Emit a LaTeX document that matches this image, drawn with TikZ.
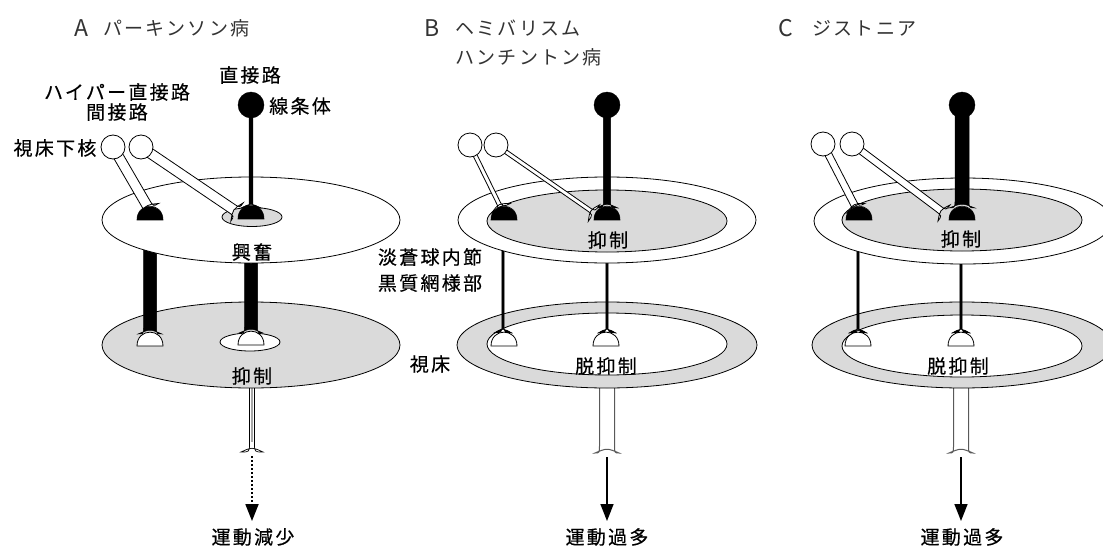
\documentclass[tikz,border=0pt]{standalone}
\usepackage{fontspec}
\setmainfont{Noto Sans CJK JP}[LetterSpace=12]
\newfontfamily\nrlabfont{Noto Sans CJK JP}[LetterSpace=12, FakeBold=0.4]
\usetikzlibrary{calc,shapes.geometric,arrows.meta}
\definecolor{nrgray}{HTML}{DADADA}

% #1 style, #2 start, #3 end, #4 half width, #5 flare half width, #6 flare length
\newcommand\nrpipe[6]{%
  \coordinate (nrM) at ($(#3)!#6pt!(#2)$);
  \draw[#1] ($(#2)!#4pt!90:(#3)$) -- ($(nrM)!#4pt!90:(#3)$)
    .. controls ($(#3)!#4pt!-90:(#2)$) .. ($(#3)!#5pt!-90:(#2)$)
    .. controls ($(#3)!5pt!(#2)$) .. ($(#3)!#5pt!90:(#2)$)
    .. controls ($(#3)!#4pt!90:(#2)$) .. ($(nrM)!#4pt!-90:(#3)$)
    -- ($(#2)!#4pt!-90:(#3)$) -- cycle;
}
% #1 style, #2 x, #3 base y
\newcommand\nrdome[3]{%
  \draw[#1] (#2-13,#3) .. controls (#2-13,#3-18.5) and (#2+13,#3-18.5) .. (#2+13,#3) -- cycle;
}

\begin{document}
\begin{tikzpicture}[x=1pt,y=-1pt,
  outl/.style={draw=black, line width=0.8pt},
  whitepipe/.style={outl, fill=white},
  blackpipe/.style={draw=black, fill=black, line width=0.5pt},
  outpipe/.style={draw=black!65, fill=white, line width=1pt},
  whitedome/.style={outl, fill=white},
  blackdome/.style={draw=black, fill=black, line width=0.6pt},
  bigell/.style={ellipse, outl, inner sep=0pt, minimum width=298pt, minimum height=86pt},
  inell/.style={ellipse, outl, inner sep=0pt, minimum width=240pt, minimum height=62pt},
  smell/.style={ellipse, outl, inner sep=0pt, minimum width=60pt, minimum height=18pt},
  stn/.style={circle, outl, fill=white, inner sep=0pt, minimum size=24pt},
  strc/.style={circle, draw=black, fill=black, inner sep=0pt, minimum size=26pt},
  lbl/.style={inner sep=0pt, font=\nrlabfont\fontsize{19}{21}\selectfont},
  ttl/.style={inner sep=0pt, font=\fontsize{19}{21}\selectfont, text=black!80},
  ltr/.style={inner sep=0pt, font=\fontsize{23}{25}\selectfont, text=black!80},
  solidarrow/.style={line width=1.6pt, -{Triangle[length=17pt,width=13pt]}},
  dotarrow/.style={line width=1.8pt, dash pattern=on 2pt off 2pt, -{Triangle[length=17pt,width=13pt]}}
]
\useasboundingbox (0,0) rectangle (1103,546);

% ================= coordinates =================
\coordinate (a-o1) at (252,382);  \coordinate (a-o2) at (252,452);
\coordinate (a-ar1) at (252,456); \coordinate (a-ar2) at (252,521);
\coordinate (b-o1) at (607,382);  \coordinate (b-o2) at (607,453);
\coordinate (b-ar1) at (607,457); \coordinate (b-ar2) at (607,521);
\coordinate (c-o1) at (961,382);  \coordinate (c-o2) at (961,453);
\coordinate (c-ar1) at (961,457); \coordinate (c-ar2) at (961,521);

\coordinate (a-b1s) at (150,240); \coordinate (a-b1e) at (150,334);
\coordinate (a-b2s) at (251,240); \coordinate (a-b2e) at (251,333);
\coordinate (b-b1s) at (503,240); \coordinate (b-b1e) at (503,333);
\coordinate (b-b2s) at (607,240); \coordinate (b-b2e) at (607,333);
\coordinate (c-b1s) at (858,240); \coordinate (c-b1e) at (858,333);
\coordinate (c-b2s) at (961,240); \coordinate (c-b2e) at (961,333);

\coordinate (a-str) at (251,105); \coordinate (a-se) at (251,208);
\coordinate (b-str) at (607,105); \coordinate (b-se) at (607,208);
\coordinate (c-str) at (962,105); \coordinate (c-se) at (962,208);

\coordinate (a-stn1c) at (113,147); \coordinate (a-stn2c) at (141,147);
\coordinate (a-e1) at (149,209);    \coordinate (a-e2) at (237,212);
\coordinate (b-stn1c) at (470,145); \coordinate (b-stn2c) at (496,145);
\coordinate (b-e1) at (501,208);    \coordinate (b-e2) at (594,213);
\coordinate (c-stn1c) at (823,144); \coordinate (c-stn2c) at (852,144);
\coordinate (c-e1) at (856,208);    \coordinate (c-e2) at (944,213);

% ================= output pipes and arrows =================
\nrpipe{whitepipe, line width=0.7pt}{a-o1}{a-o2}{2.5}{11}{9}
\draw[gray!70, line width=2.4pt] (252,386) -- (252,442);
\draw[dotarrow] (a-ar1) -- (a-ar2);
\nrpipe{outpipe}{b-o1}{b-o2}{7.5}{12}{9}
\draw[solidarrow] (b-ar1) -- (b-ar2);
\nrpipe{outpipe}{c-o1}{c-o2}{7.5}{12}{9}
\draw[solidarrow] (c-ar1) -- (c-ar2);

% ================= thalamus =================
\node[bigell, fill=nrgray] (a-th) at (251,345) {};
\node[smell, fill=white] (a-thin) at (250,342) {};
\node[bigell, fill=nrgray, minimum width=300pt] (b-th) at (607,345) {};
\node[inell, fill=white] (b-thin) at (607,344) {};
\node[bigell, fill=nrgray, minimum width=300pt] (c-th) at (962,345) {};
\node[inell, fill=white] (c-thin) at (962,346) {};

% ================= GPi -> thalamus =================
\nrpipe{blackpipe}{a-b1s}{a-b1e}{6.5}{12}{6}
\nrpipe{blackpipe}{a-b2s}{a-b2e}{6.5}{12}{6}
\nrpipe{blackpipe}{b-b1s}{b-b1e}{1.1}{9}{9}
\nrpipe{blackpipe}{b-b2s}{b-b2e}{1.1}{9}{9}
\nrpipe{blackpipe}{c-b1s}{c-b1e}{1.1}{9}{9}
\nrpipe{blackpipe}{c-b2s}{c-b2e}{1.1}{9}{9}
\nrdome{whitedome}{150}{346}
\nrdome{whitedome}{251}{345}
\nrdome{whitedome}{504}{346}
\nrdome{whitedome}{606}{346}
\nrdome{whitedome}{858}{346}
\nrdome{whitedome}{961}{346}

% ================= GPi / SNr =================
\node[bigell, fill=white] (a-gpi) at (251,220) {};
\node[smell, fill=nrgray, minimum height=19pt] (a-gpiin) at (252,217) {};
\node[bigell, fill=white] (b-gpi) at (607,220) {};
\node[inell, fill=nrgray] (b-gpiin) at (607,221) {};
\node[bigell, fill=white] (c-gpi) at (963,221) {};
\node[inell, fill=nrgray] (c-gpiin) at (962,220) {};

% ================= striatum sticks =================
\nrpipe{blackpipe}{a-str}{a-se}{1.8}{10}{9}
\nrpipe{blackpipe}{b-str}{b-se}{3.6}{11}{9}
\nrpipe{blackpipe}{c-str}{c-se}{7}{13}{9}

% ================= STN pipes =================
\nrpipe{whitepipe}{a-stn1c}{a-e1}{5}{11}{8}
\nrpipe{whitepipe}{a-stn2c}{a-e2}{5}{11}{8}
\nrpipe{whitepipe}{b-stn1c}{b-e1}{2}{10}{8}
\nrpipe{whitepipe}{b-stn2c}{b-e2}{2}{10}{8}
\nrpipe{whitepipe}{c-stn1c}{c-e1}{3.5}{10}{8}
\nrpipe{whitepipe}{c-stn2c}{c-e2}{3.5}{10}{8}

% ================= terminals on GPi =================
\nrdome{blackdome}{150}{220}
\nrdome{blackdome}{251}{219}
\nrdome{blackdome}{504}{220}
\nrdome{blackdome}{607}{220}
\nrdome{blackdome}{859}{220}
\nrdome{blackdome}{962}{220}

% ================= cell bodies =================
\node[stn] (a-stn1) at (a-stn1c) {};
\node[stn] (a-stn2) at (a-stn2c) {};
\node[stn] (b-stn1) at (b-stn1c) {};
\node[stn] (b-stn2) at (b-stn2c) {};
\node[stn] (c-stn1) at (c-stn1c) {};
\node[stn] (c-stn2) at (c-stn2c) {};
\node[strc] (a-strn) at (a-str) {};
\node[strc] (b-strn) at (b-str) {};
\node[strc] (c-strn) at (c-str) {};

% ================= titles =================
\node[ltr] (a-letter) at (81,28) {A};
\node[ttl, anchor=west] (a-title) at (103,28) {パーキンソン病};
\node[ltr] (b-letter) at (432,28) {B};
\node[ttl, anchor=west] (b-title1) at (455,28) {ヘミバリスム};
\node[ttl, anchor=west] (b-title2) at (455,57) {ハンチントン病};
\node[ltr] (c-letter) at (786,28) {C};
\node[ttl, anchor=west] (c-title) at (812,28) {ジストニア};

% ================= labels =================
\node[lbl] (l-direct) at (250,75) {直接路};
\node[lbl] (l-hyper) at (117,92) {ハイパー直接路};
\node[lbl] (l-indirect) at (117,112) {間接路};
\node[lbl] (l-stn) at (55,148) {視床下核};
\node[lbl] (l-str) at (300,106) {線条体};
\node[lbl] (a-exc) at (252,252) {興奮};
\node[lbl] (a-inh) at (252,376) {抑制};
\node[lbl] (a-out) at (253,537) {運動減少};

\node[lbl] (l-gpi) at (430,257) {淡蒼球内節};
\node[lbl] (l-snr) at (430,283) {黒質網様部};
\node[lbl] (l-th) at (430,364) {視床};
\node[lbl] (b-inh) at (608,240) {抑制};
\node[lbl] (b-dis) at (606,366) {脱抑制};
\node[lbl] (b-out) at (607,537) {運動過多};

\node[lbl] (c-inh) at (961,239) {抑制};
\node[lbl] (c-dis) at (958,366) {脱抑制};
\node[lbl] (c-out) at (962,537) {運動過多};
\end{tikzpicture}
\end{document}
